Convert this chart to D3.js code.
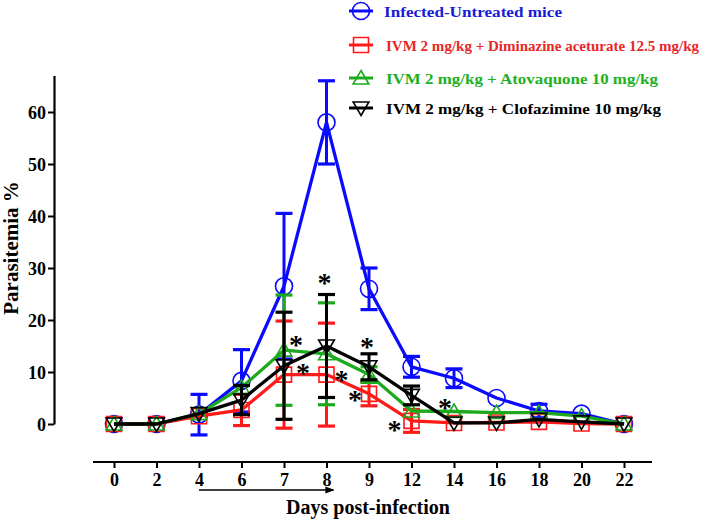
<!DOCTYPE html>
<html><head><meta charset="utf-8">
<script src="https://cdn.jsdelivr.net/npm/d3@7"></script>
<style>body{margin:0;background:#fff}svg{display:block}text{font-family:"Liberation Serif","Times New Roman",serif;font-weight:bold}</style>
</head><body><svg id="c" width="709" height="519"></svg>
<script>
const days = ["0","2","4","6","7","8","9","12","14","16","18","20","22"];
const untreated     = [0,0,1.8,8.3,26.5,58,26,11,8.8,5,2.5,2,0];
const untreatedErr  = [0,0,3.9,6,14,8,4,2,1.8,0,1.3,0,0];
const diminazine    = [0,0,1.5,2.7,9.5,9.5,5.8,0.6,0.2,0.3,0.4,0.1,0];
const diminazineErr = [0,0,0,3,10.3,9.9,2.3,2.2,0,0,0,0,0];
const atovaquone    = [0,0,2,7,14.2,13.5,9.5,2.5,2.4,2.2,2.2,1.5,0];
const atovaquoneErr = [0,0,0,0,10.6,9.8,1.5,0,0,0,0,0,0];
const clofazimine   = [0,0,2,4.6,11.2,15,11,5.5,0.2,0.2,0.9,0.4,0];
const clofazimineErr= [0,0,0,2.8,10.3,9.9,2.5,1.8,0,0,0,0,0];
const yTicks = [0,10,20,30,40,50,60];
const seriesNames = ["Infected-Untreated mice","IVM 2 mg/kg + Diminazine aceturate 12.5 mg/kg","IVM 2 mg/kg + Atovaquone 10 mg/kg","IVM 2 mg/kg + Clofazimine 10 mg/kg"];
// significance marks: day, value level
const starDays   = ["7","7","8","8","9","9","12","14"];
const starValues = [16.2,10.8,28,9.4,15.8,5.6,-0.2,4];
const starShift  = [12,19,-2,15,-2,-14,-17,-9];
const treatStart = "4", treatEnd = "8";

const series = [
  {name:seriesNames[0], v:untreated, e:untreatedErr, color:"#0a0aff", text:"#1a1ad8", shape:"circle", w:178},
  {name:seriesNames[1], v:diminazine, e:diminazineErr, color:"#ff1a1a", text:"#e62828", shape:"square", w:313},
  {name:seriesNames[2], v:atovaquone, e:atovaquoneErr, color:"#1caa1c", text:"#22b022", shape:"tri-up", w:272},
  {name:seriesNames[3], v:clofazimine, e:clofazimineErr, color:"#000000", text:"#000000", shape:"tri-down", w:275}
];

const svg = d3.select("#c");
const x = d3.scalePoint().domain(days).range([114,624]);
const y = d3.scaleLinear().domain([0,67]).range([424,75.6]);

// y axis
const ya = svg.append("g").attr("transform","translate(54,0)")
  .call(d3.axisLeft(y).tickValues(yTicks).tickSize(6).tickSizeOuter(0).tickPadding(2));
ya.select(".domain").attr("stroke","#000").attr("stroke-width",2.2);
ya.selectAll(".tick line").attr("stroke-width",2);
ya.selectAll(".tick text").attr("font-size",18).attr("font-family","Liberation Serif").attr("font-weight","bold").attr("fill","#000").attr("dy","0.34em");

// x axis (offset)
const xa = svg.append("g").attr("transform","translate(0,462)")
  .call(d3.axisBottom(x).tickSize(6).tickSizeOuter(0).tickPadding(5));
xa.select(".domain").attr("d","M93,0H652").attr("stroke","#000").attr("stroke-width",2.2);
xa.selectAll(".tick line").attr("stroke-width",2);
xa.selectAll(".tick text").attr("font-size",18).attr("font-family","Liberation Serif").attr("font-weight","bold").attr("fill","#000");

// arrow
svg.append("defs").append("marker").attr("id","ah").attr("viewBox","0 0 10 10").attr("refX",9).attr("refY",5)
  .attr("markerWidth",6).attr("markerHeight",6).attr("orient","auto")
  .append("path").attr("d","M0,1L10,5L0,9Z").attr("fill","#000");
svg.append("line").attr("x1",x(treatStart)).attr("x2",x(treatEnd)+7).attr("y1",490).attr("y2",490)
  .attr("stroke","#000").attr("stroke-width",1.5).attr("marker-end","url(#ah)");

// axis titles
svg.append("text").attr("x",368).attr("y",514).attr("text-anchor","middle").attr("font-size",20).text("Days post-infection");
svg.append("text").attr("transform","translate(18,248) rotate(-90)").attr("text-anchor","middle").attr("font-size",21).text("Parasitemia %");

function shapePath(shape, s){
  if(shape==="square") return `M${-s},${-s}H${s}V${s}H${-s}Z`;
  if(shape==="tri-up") return `M0,${-s}L${s*1.05},${s*0.8}L${-s*1.05},${s*0.8}Z`;
  if(shape==="tri-down") return `M0,${s}L${s*1.05},${-s*0.8}L${-s*1.05},${-s*0.8}Z`;
  return null;
}
function drawMarker(g, shape, cx, cy, color){
  if(shape==="circle"){
    g.append("circle").attr("cx",cx).attr("cy",cy).attr("r",8.5).attr("fill","none").attr("stroke",color).attr("stroke-width",1.6);
  } else {
    g.append("path").attr("d",shapePath(shape,7.5)).attr("transform",`translate(${cx},${cy})`)
      .attr("fill","none").attr("stroke",color).attr("stroke-width",1.6);
  }
}

const line = d3.line().x((d,i)=>x(days[i])).y(d=>y(d));
series.forEach(s=>{
  const g = svg.append("g");
  s.v.forEach((v,i)=>{
    const e = s.e[i]; if(!e) return;
    const cx = x(days[i]);
    g.append("line").attr("x1",cx).attr("x2",cx).attr("y1",y(v+e)).attr("y2",y(v-e)).attr("stroke",s.color).attr("stroke-width",3);
    [v+e, v-e].forEach(t=>g.append("line").attr("x1",cx-8.5).attr("x2",cx+8.5).attr("y1",y(t)).attr("y2",y(t)).attr("stroke",s.color).attr("stroke-width",3.2));
  });
  g.append("path").attr("d",line(s.v)).attr("fill","none").attr("stroke",s.color).attr("stroke-width",3.3).attr("stroke-linejoin","round");
  s.v.forEach((v,i)=>drawMarker(g, s.shape, x(days[i]), y(v), s.color));
});

// stars
const starSize = 28;
starDays.forEach((d,i)=>{
  svg.append("text").attr("x",x(d)+starShift[i]).attr("y",y(starValues[i])+starSize*0.5).attr("text-anchor","middle")
    .attr("font-size",starSize).attr("fill","#000").text("*");
});

// legend
const legY = [11,45,78,108];
series.forEach((s,i)=>{
  const g = svg.append("g");
  g.append("line").attr("x1",349).attr("x2",373).attr("y1",legY[i]).attr("y2",legY[i]).attr("stroke",s.color).attr("stroke-width",3);
  drawMarker(g, s.shape, 361, legY[i], s.color);
  g.append("text").attr("x",i===0?384:386).attr("y",legY[i]+5.5).attr("font-size",15.5)
    .attr("textLength",s.w).attr("lengthAdjust","spacingAndGlyphs").attr("fill",s.text).text(s.name);
});
</script></body></html>
